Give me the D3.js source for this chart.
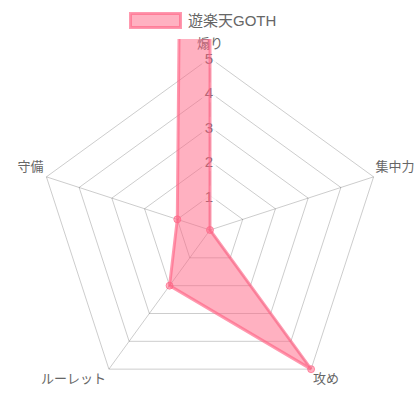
<!DOCTYPE html>
<html><head><meta charset="utf-8">
<script src="https://cdn.jsdelivr.net/npm/d3@7"></script>
<style>html,body{margin:0;padding:0;background:#fff}svg{display:block}</style>
</head><body><svg id="c" width="420" height="420"></svg>
<script>
const labels = ["煽り", "集中力", "攻め", "ルーレット", "守備"];
const seriesName = "遊楽天GOTH";
const values = [100, 0, 5, 2, 1];
const tickValues = [1, 2, 3, 4, 5];

const FONT = '"Liberation Sans", Arial, "Noto Sans CJK JP", sans-serif';
const fillC = "rgba(255,99,132,0.5)";
const lineC = "rgba(255,99,132,0.65)";
const gridC = "rgba(0,0,0,0.2)";
const cx = 210, cy = 230, R = 172;

const svg = d3.select("#c");
const r = d3.scaleLinear().domain([0, 5]).range([0, R]);
const ang = d3.scaleLinear().domain([0, labels.length]).range([0, 2 * Math.PI]);
const px = (i, v) => cx + r(v) * Math.sin(ang(i));
const py = (i, v) => cy - r(v) * Math.cos(ang(i));

// grid pentagons
const g = svg.append("g");
tickValues.forEach(t => {
  g.append("polygon")
    .attr("points", labels.map((_, i) => [px(i, t), py(i, t)].join(",")).join(" "))
    .attr("fill", "none").attr("stroke", gridC).attr("stroke-width", 1);
});
// angle lines
labels.forEach((_, i) => {
  g.append("line").attr("x1", cx).attr("y1", cy)
    .attr("x2", px(i, 5)).attr("y2", py(i, 5))
    .attr("stroke", gridC).attr("stroke-width", 1);
});

// tick labels with backdrops
tickValues.forEach(t => {
  const y = cy - r(t);
  const tx = g.append("text").attr("x", cx - 1).attr("y", y + 0.5)
    .attr("text-anchor", "middle").attr("dominant-baseline", "central")
    .attr("font-family", FONT).attr("font-size", 15).attr("fill", "#666").text(t);
  const w = tx.node().getComputedTextLength();
  g.insert("rect", "text").attr("x", cx - 1 - w / 2 - 3).attr("y", y - 10)
    .attr("width", w + 6).attr("height", 20).attr("fill", "rgba(255,255,255,0.75)");
});

// point labels
labels.forEach((lab, i) => {
  const s = Math.sin(ang(i)), c = Math.cos(ang(i));
  const vx = px(i, 5), vy = py(i, 5);
  let anchor = "middle", x = vx, y;
  if (s > 0.1) { anchor = "start"; x = vx + 2; }
  else if (s < -0.1) { anchor = "end"; x = vx - 3; }
  if (c > 0.9) y = vy - 15;
  else if (c > 0) y = vy - 10.5;
  else y = vy + 9.5;
  g.append("text").attr("x", x).attr("y", y)
    .attr("text-anchor", anchor).attr("dominant-baseline", "central")
    .attr("font-family", FONT).attr("font-size", 13).attr("fill", "#666").text(lab);
});

// dataset (clipped to chart area)
svg.append("defs").append("clipPath").attr("id", "area")
  .append("rect").attr("x", 0).attr("y", 39).attr("width", 420).attr("height", 381);
const ds = svg.append("g").attr("clip-path", "url(#area)");
const line = d3.line().curve(d3.curveLinearClosed);
ds.append("path")
  .attr("d", line(values.map((v, i) => [px(i, v), py(i, v)])))
  .attr("fill", fillC).attr("stroke", lineC).attr("stroke-width", 3)
  .attr("stroke-linejoin", "miter");
ds.selectAll("circle").data(values).join("circle")
  .attr("cx", (v, i) => px(i, v)).attr("cy", (v, i) => py(i, v))
  .attr("r", 3.5).attr("fill", fillC).attr("stroke", lineC).attr("stroke-width", 1);

// legend
const lg = svg.append("g");
lg.append("rect").attr("x", 130.5).attr("y", 13.5).attr("width", 50).attr("height", 14)
  .attr("fill", fillC).attr("stroke", lineC).attr("stroke-width", 3);
lg.append("text").attr("x", 188).attr("y", 20.5).attr("dominant-baseline", "central")
  .attr("font-family", FONT).attr("font-size", 15).attr("fill", "#666").text(seriesName);
</script></body></html>
